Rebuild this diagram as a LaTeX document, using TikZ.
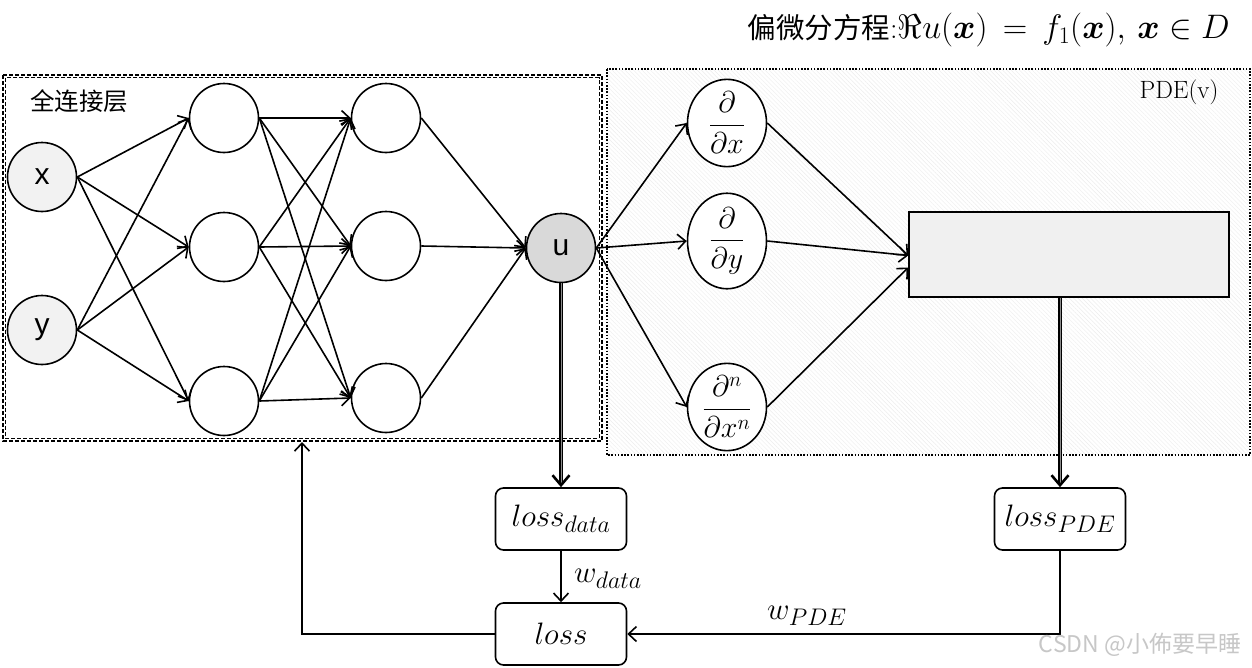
\documentclass[tikz,border=0pt]{standalone}
\usepackage{fix-cm}
\usepackage{fontspec}
\usepackage{amsmath}
\usepackage{bm}
\newfontfamily\cjk{Noto Sans CJK SC}
\newfontfamily\arial{Liberation Sans}
\DeclareMathSizes{31}{31}{24}{18}
\usetikzlibrary{arrows.meta,shapes.geometric,patterns.meta,calc}
\begin{document}
\begin{tikzpicture}[x=1pt,y=-1pt,
  neuron/.style={circle,draw,line width=1.6pt,minimum size=69pt,inner sep=0pt,fill=white,font=\arial\fontsize{30}{34}\selectfont},
  deriv/.style={ellipse,draw,line width=1.6pt,minimum width=79pt,minimum height=80pt,inner sep=0pt,fill=white,font=\fontsize{30}{34}\selectfont},
  lossbox/.style={rectangle,rounded corners=8pt,draw,line width=1.6pt,minimum width=131pt,minimum height=62pt,inner sep=0pt,fill=white,font=\fontsize{31}{36}\selectfont},
  conn/.style={line width=1.6pt,-{Straight Barb[length=8pt,width=15pt,line width=1.6pt]}},
  bigconn/.style={double=black!45,double distance=0.9pt,line width=1.1pt,-{Straight Barb[length=10pt,width=17pt,line width=2.6pt]}},
  lbl/.style={font=\fontsize{31}{36}\selectfont,inner sep=0pt},
  fcbox/.style={line width=1.1pt,dash pattern=on 4pt off 2pt},
]
\useasboundingbox (0,0) rectangle (1252,667);
\fill[white] (0,0) rectangle (1252,667);

% PDE box
\fill[white] (607,69) rectangle (1250,455);
\fill[pattern={Lines[angle=-45,distance=3pt,line width=0.4pt]},pattern color=black!7] (607,69) rectangle (1250,455);
\draw[line width=1.6pt,dash pattern=on 1.6pt off 1.6pt] (607,69) rectangle (1250,455);
\node[font=\fontsize{25}{28}\selectfont] (pdelbl) at (1179,92) {PDE(v)};

% fully connected box
\draw[fcbox] (3,75) rectangle (602,441);
\draw[fcbox] (5.8,77.8) rectangle (599.2,438.2);
\node[font=\cjk\fontsize{24.5}{28}\selectfont] (fclbl) at (79,101) {全连接层};

% title
\node[anchor=east,inner sep=0pt] (title) at (1230,30)
  {{\cjk\fontsize{28.5}{34}\selectfont 偏微分方程}{\fontsize{30}{34}\selectfont:}{\fontsize{34}{39}\selectfont$\Re u(\bm{x}) \,=\, f_1(\bm{x}),\, \bm{x} \in D$}};

% neurons
\node[neuron,fill=black!5] (x) at (42,177) {x};
\node[neuron,fill=black!5] (y) at (42,330) {y};
\node[neuron] (h11) at (224,118) {};
\node[neuron] (h12) at (224,247) {};
\node[neuron] (h13) at (224,401) {};
\node[neuron] (h21) at (386,118) {};
\node[neuron] (h22) at (386,246) {};
\node[neuron] (h23) at (386,398) {};
\node[neuron,fill=black!15] (u) at (561,248) {u};

\foreach \s in {x,y}{\foreach \t in {h11,h12,h13}{\draw[conn] (\s.east) -- (\t.west);}}
\foreach \s in {h11,h12,h13}{\foreach \t in {h21,h22,h23}{\draw[conn] (\s.east) -- (\t.west);}}
\foreach \s in {h21,h22,h23}{\draw[conn] (\s.east) -- (u.west);}

% derivatives
\node[deriv] (d1) at (727,123) {$\dfrac{\partial}{\partial x}$};
\node[deriv] (d2) at (727,241) {$\dfrac{\partial}{\partial y}$};
\node[deriv] (d3) at (727,407) {$\dfrac{\partial^n}{\partial x^n}$};
\node[draw,line width=1.6pt,fill=black!6,minimum width=320pt,minimum height=85pt,inner sep=0pt] (op) at (1069,254.5) {};

\foreach \t in {d1,d2,d3}{\draw[conn] (u.east) -- (\t.west);}
\draw[conn] (d1.east) -- ([yshift=-1pt]op.west);
\draw[conn] (d2.east) -- ([yshift=-1pt]op.west);
\draw[conn] (d3.east) -- ([yshift=-13pt]op.west);

% losses
\node[lossbox] (ld) at (561,519) {$loss_{data}$};
\node[lossbox] (lp) at (1060,519) {$loss_{PDE}$};
\node[lossbox] (l) at (561,634) {$loss$};

\draw[bigconn] (u.south) -- (ld.north);
\draw[bigconn] (op.south -| lp.north) -- (lp.north);
\draw[conn] (ld.south) -- (l.north);
\draw[conn] (lp.south) |- (l.east);
\coordinate (fb) at (302,442);
\draw[conn] (l.west) -| (fb);

\node[lbl,anchor=west] (wd) at (574,579) {$w_{data}$};
\node[lbl] (wp) at (807,616) {$w_{PDE}$};

% watermark
\node[font=\cjk\fontsize{23}{26}\selectfont,text=black!22,inner sep=0pt] (wm) at (1140,645) {CSDN @小佈要早睡};
\end{tikzpicture}
\end{document}
